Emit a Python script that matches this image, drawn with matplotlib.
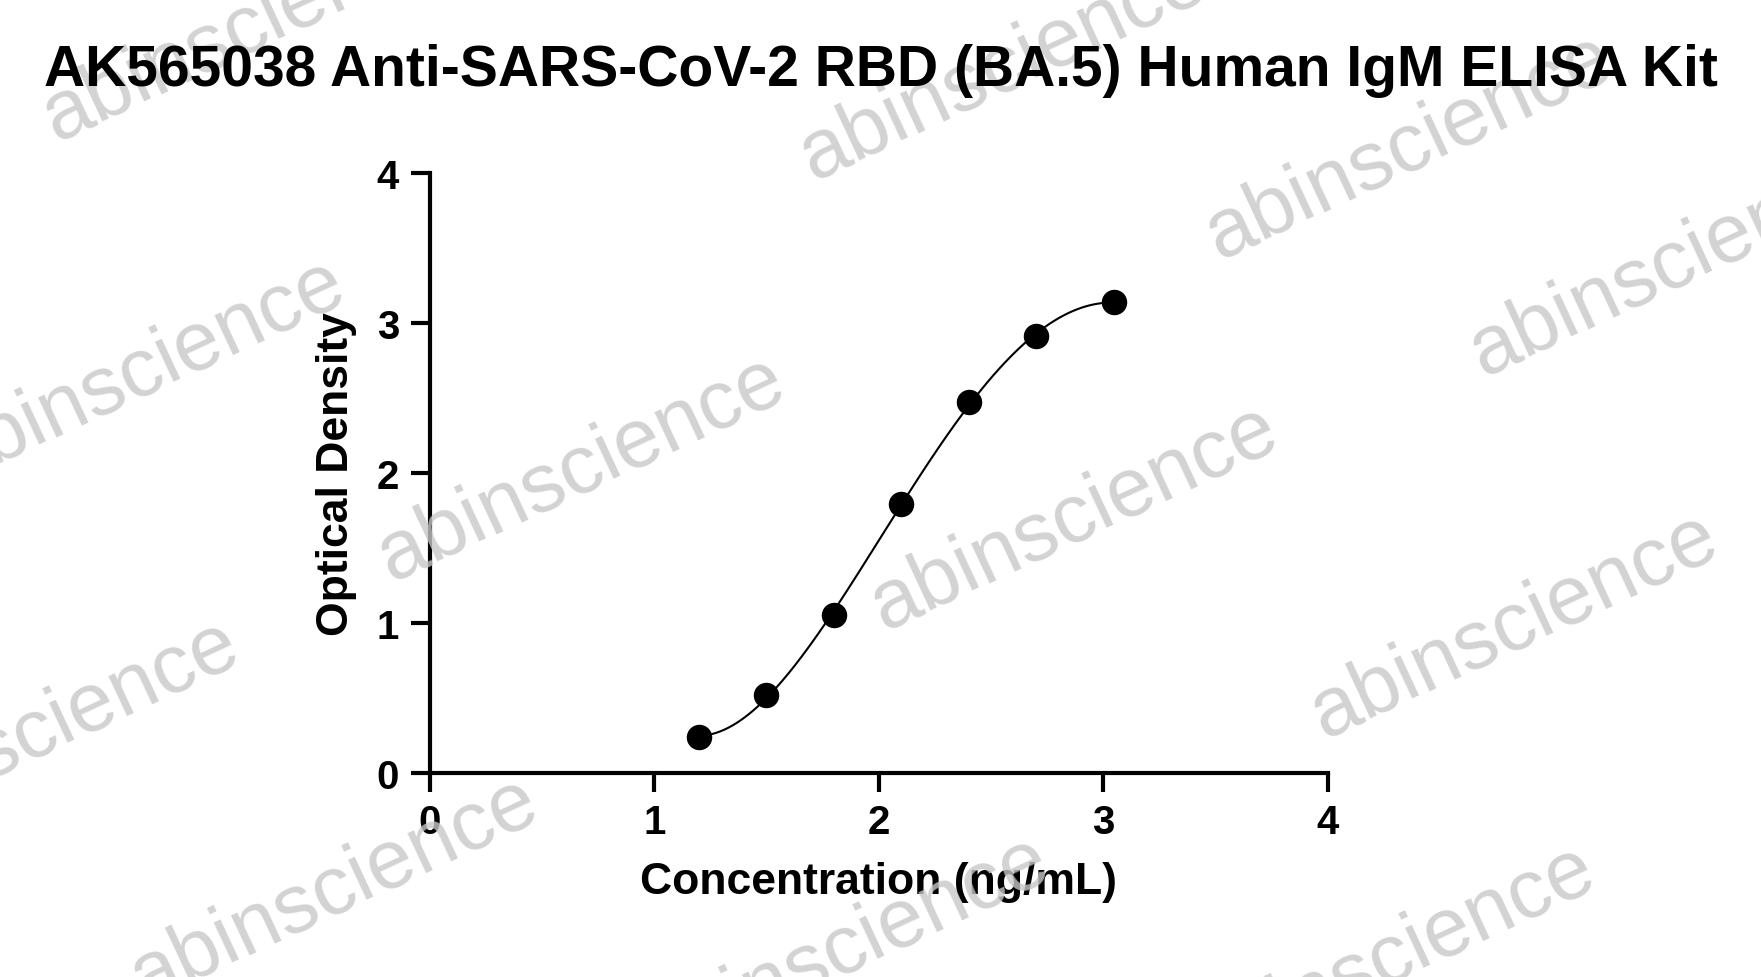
import matplotlib; matplotlib.use('Agg')
import numpy as np
from matplotlib import pyplot as plt

plt.rcParams['font.family'] = ['Liberation Sans', 'DejaVu Sans']
plt.rcParams['font.weight'] = 'bold'

conc = [1.2, 1.5, 1.8, 2.1, 2.4, 2.7, 3.05]
od = [0.24, 0.52, 1.05, 1.79, 2.47, 2.91, 3.14]
ticks = [0, 1, 2, 3, 4]
title = 'AK565038 Anti-SARS-CoV-2 RBD (BA.5) Human IgM ELISA Kit'

fig = plt.figure(figsize=(17.61, 9.78), dpi=100)
ax = fig.add_axes([0.244, 0.209, 0.51, 0.613])

# watermarks
wm = [(0.14, 0.97), (0.57, 0.93), (0.8, 0.85), (0.95, 0.73), (0.08, 0.62),
      (0.33, 0.52), (0.61, 0.47), (0.86, 0.36), (0.02, 0.25), (0.19, 0.09),
      (0.48, 0.03), (0.79, 0.02)]
for x, y in wm:
    fig.text(x, y, 'abinscience', fontsize=60, color='#c8c8c8', rotation=25,
             ha='center', va='center', fontweight='normal', zorder=0, alpha=0.8)

# smooth fitted curve (polynomial fit of the data)
coef = np.polyfit(conc, od, 4)
xs = np.linspace(conc[0], conc[-1], 200)
ax.plot(xs, np.polyval(coef, xs), color='black', lw=1.5, zorder=3)
ax.scatter(conc, od, s=300, color='black', zorder=4)

ax.set_xlim(0, 4)
ax.set_ylim(0, 4)
ax.set_xticks(ticks)
ax.set_yticks(ticks)
ax.tick_params(labelsize=29, width=3, length=14, direction='out', pad=8)
for s in ['top', 'right']:
    ax.spines[s].set_visible(False)
for s in ['left', 'bottom']:
    ax.spines[s].set_linewidth(3)
ax.patch.set_alpha(0)
ax.set_xlabel('Concentration (ng/mL)', fontsize=32, fontweight='bold', labelpad=14)
ax.set_ylabel('Optical Density', fontsize=32, fontweight='bold', labelpad=14)
fig.suptitle(title, fontsize=41, fontweight='bold', y=0.955)

fig.savefig('out.png', dpi=100)
